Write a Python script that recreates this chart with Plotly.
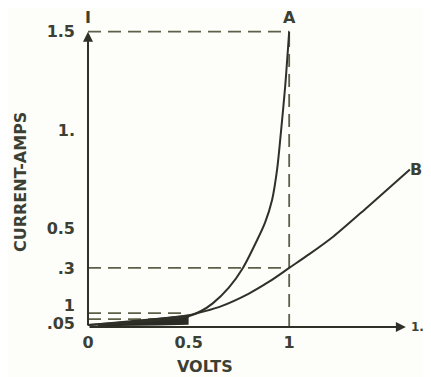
import plotly.graph_objects as go

# curve A
volts_a = [0, 0.1, 0.2, 0.3, 0.4, 0.5, 0.56, 0.62, 0.7, 0.77, 0.84, 0.88, 0.915, 0.94, 0.96, 0.98, 1.0]
amps_a = [0.01, 0.015, 0.02, 0.03, 0.04, 0.055, 0.08, 0.12, 0.2, 0.3, 0.44, 0.53, 0.645, 0.8, 1.0, 1.22, 1.5]

# curve B
volts_b = [0, 0.25, 0.5, 0.58, 0.66, 0.8, 0.9, 1.0, 1.1, 1.22, 1.39, 1.6]
amps_b = [0.01, 0.03, 0.06, 0.08, 0.105, 0.17, 0.23, 0.3, 0.37, 0.46, 0.61, 0.8]

# dark smudge where the two curves overlap near the origin
smudge_x = [0.05, 0.2, 0.35, 0.5]
smudge_top = [0.012, 0.025, 0.04, 0.055]
smudge_bottom = [0.004, 0.005, 0.008, 0.012]

# dashed guide lines
guide_h = [(1.5, 0, 1.0), (0.3, 0, 1.0), (0.07, 0, 0.48), (0.04, 0, 0.45)]
guide_v = [(1.0, 0, 1.5)]

x_tick_vals = [0, 0.5, 1.0]
x_tick_text = ['0', '0.5', '1']
y_tick_vals = [0.018, 0.11, 0.3, 0.5, 1.0, 1.5]
y_tick_text = ['.05', '1', '.3', '0.5', '1.', '1.5']

ink = '#2f3128'
text_col = '#3c3f33'
dash_col = '#5c6048'
font = 'DejaVu Sans'
fsize = 16

fig = go.Figure()

for y, x0, x1 in guide_h:
    fig.add_trace(go.Scatter(x=[x0, x1], y=[y, y], mode='lines',
                             line=dict(color=dash_col, width=1.8, dash='13px,7px'),
                             hoverinfo='skip'))
for x, y0, y1 in guide_v:
    fig.add_trace(go.Scatter(x=[x, x], y=[y0, y1], mode='lines',
                             line=dict(color=dash_col, width=1.8, dash='13px,7px'),
                             hoverinfo='skip'))

fig.add_trace(go.Scatter(x=smudge_x, y=smudge_bottom, mode='lines',
                         line=dict(color=ink, width=0), hoverinfo='skip'))
fig.add_trace(go.Scatter(x=smudge_x, y=smudge_top, mode='lines', fill='tonexty',
                         fillcolor='#2a2b24', line=dict(color=ink, width=3),
                         hoverinfo='skip'))

fig.add_trace(go.Scatter(x=volts_a, y=amps_a, mode='lines', name='A',
                         line=dict(color=ink, width=2, shape='spline', smoothing=0.8)))
fig.add_trace(go.Scatter(x=volts_b, y=amps_b, mode='lines', name='B',
                         line=dict(color=ink, width=2, shape='spline', smoothing=0.8)))

# axes drawn as arrows
fig.add_annotation(x=0, y=1.5, ax=0, ay=0, xref='x', yref='y', axref='x', ayref='y',
                   text='', showarrow=True, arrowhead=2, arrowsize=1, arrowwidth=2, arrowcolor=ink)
fig.add_annotation(x=1.58, y=0, ax=0, ay=0, xref='x', yref='y', axref='x', ayref='y',
                   text='', showarrow=True, arrowhead=2, arrowsize=1, arrowwidth=2, arrowcolor=ink)

labels = [
    (0, 1.57, 'I', 'center', fsize),
    (1.0, 1.57, 'A', 'center', fsize),
    (1.63, 0.8, 'B', 'center', fsize),
    (1.595, 0.0, '1.5', 'left', 12),
]
for x, y, t, anchor, size in labels:
    fig.add_annotation(x=x, y=y, text=t, showarrow=False, xanchor=anchor, yanchor='middle',
                       font=dict(family=font, size=size, color=text_col, weight='bold'))

fig.add_annotation(x=0.58, y=0, xref='x', yref='paper', yshift=-39, text='VOLTS',
                   xanchor='center', yanchor='middle', showarrow=False,
                   font=dict(family=font, size=fsize, color=text_col, weight='bold'))
fig.add_annotation(x=0, y=0.736, xref='paper', yref='y', xshift=-68, text='CURRENT-AMPS',
                   textangle=-90, xanchor='center', yanchor='middle', showarrow=False,
                   font=dict(family=font, size=fsize, color=text_col, weight='bold'))

# the page body adds an 8px margin, so the figure is sized to fit inside it
fig.update_layout(
    width=423, height=369,
    margin=dict(l=80, r=1, t=0, b=50, autoexpand=False),
    paper_bgcolor='#fdfdf9', plot_bgcolor='#fdfdf9',
    showlegend=False,
    font=dict(family=font, size=fsize, color=text_col, weight='bold'),
)
fig.update_xaxes(range=[0, 1.7], showgrid=False, zeroline=False, showline=False, automargin=False,
                 tickvals=x_tick_vals, ticktext=x_tick_text, ticks='', ticklabelstandoff=4)
fig.update_yaxes(range=[0, 1.62], showgrid=False, zeroline=False, showline=False, automargin=False,
                 tickvals=y_tick_vals, ticktext=y_tick_text, ticks='', ticklabelstandoff=12)

fig.write_html('out.html')
